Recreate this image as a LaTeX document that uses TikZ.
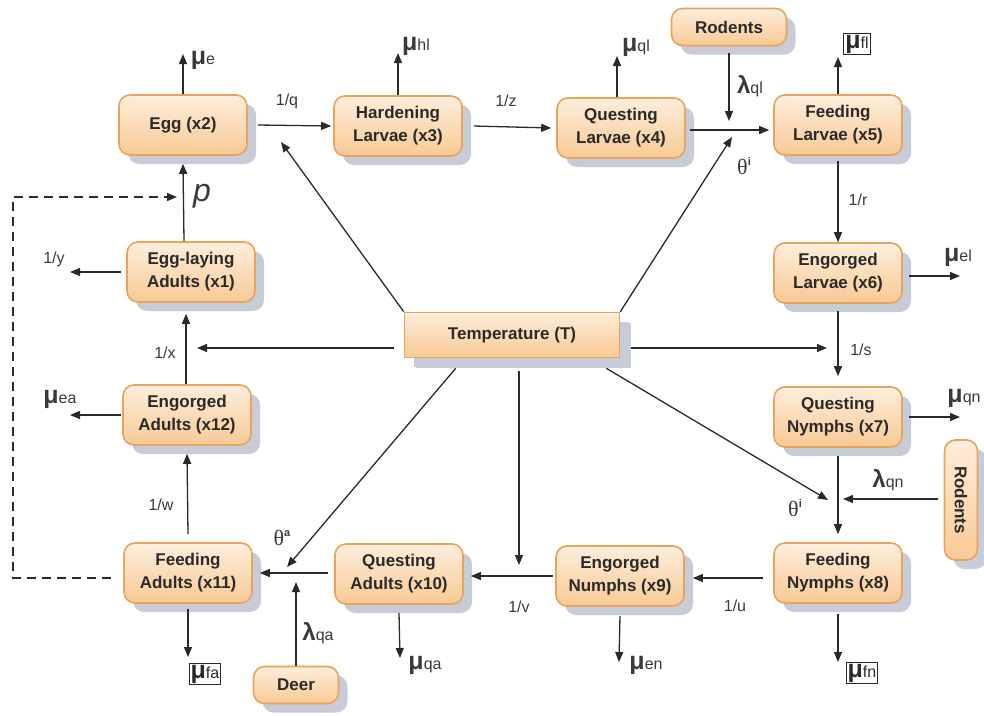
\documentclass[tikz,border=0pt]{standalone}
\usepackage{fontspec}
\setmainfont{Liberation Sans}
\newfontfamily\thetafont{Liberation Serif}
\usetikzlibrary{arrows.meta,shadows}
\definecolor{boxtop}{HTML}{FDEEDC}
\definecolor{boxbot}{HTML}{F8C994}
\definecolor{boxline}{HTML}{E8A45C}
\definecolor{shad}{HTML}{C7CCD8}
\definecolor{ink}{HTML}{2A2A2A}
\definecolor{lbl}{HTML}{3A3A3A}
\definecolor{thc}{HTML}{555555}
\newcommand\murate[1]{{\fontsize{25}{25}\selectfont\bfseries μ}{\fontsize{16}{16}\selectfont #1}}
\newcommand\lamrate[1]{{\fontsize{24}{24}\selectfont\bfseries λ}{\fontsize{16}{16}\selectfont #1}}
\newcommand\thrate[1]{{\thetafont\fontsize{22}{22}\selectfont θ}\raisebox{9pt}{\fontsize{11}{11}\selectfont\bfseries #1}}
\tikzset{
  stage/.style={draw=boxline, line width=1.6pt, rounded corners=11pt,
    top color=boxtop, bottom color=boxbot,
    minimum width=128pt, minimum height=60pt, inner sep=2pt, align=center,
    font=\fontsize{17}{23}\selectfont\bfseries, text=ink,
    drop shadow={shadow xshift=9pt, shadow yshift=-9pt, fill=shad, opacity=1}},
  flow/.style={draw=ink, line width=1.3pt, -{Triangle[length=10pt,width=8pt]}},
  lab/.style={font=\fontsize{16}{16}\selectfont, text=lbl, inner sep=0pt, anchor=center},
  muboxed/.style={draw=ink, line width=1.2pt, inner sep=1.5pt, text=ink},
  dashflow/.style={draw=ink, line width=1.3pt, dash pattern=on 9pt off 6pt, -{Triangle[length=10pt,width=8pt]}}
}
\begin{document}
\begin{tikzpicture}[x=1pt,y=-1pt]
\useasboundingbox (0,0) rectangle (984,715);
% stages
\node[stage] (e2) at (183,125) {Egg (x2)};
\node[stage] (e3) at (398,126) {Hardening\\Larvae (x3)};
\node[stage] (e4) at (621,128) {Questing\\Larvae (x4)};
\node[stage, minimum width=115pt, minimum height=37pt] (rod1) at (729,27) {Rodents};
\node[stage] (e5) at (838,125) {Feeding\\Larvae (x5)};
\node[stage] (e6) at (838,273) {Engorged\\Larvae (x6)};
\node[stage] (e7) at (838,417) {Questing\\Nymphs (x7)};
\node[stage, minimum width=33pt, minimum height=120pt] (rod2) at (961,500) {\rotatebox{-90}{Rodents}};
\node[stage] (e8) at (838,573) {Feeding\\Nymphs (x8)};
\node[stage] (e9) at (620,576) {Engorged\\Numphs (x9)};
\node[stage] (e10) at (399,574) {Questing\\Adults (x10)};
\node[stage] (e11) at (188,573) {Feeding\\Adults (x11)};
\node[stage, minimum width=85pt, minimum height=37pt] (deer) at (296,685) {Deer};
\node[stage] (e12) at (187,415) {Engorged\\Adults (x12)};
\node[stage] (e1) at (191,272) {Egg-laying\\Adults (x1)};
\node[stage, sharp corners, minimum width=215pt, minimum height=45pt,
  drop shadow={shadow xshift=11pt, shadow yshift=-10pt, fill=shad, opacity=1}] (temp) at (512,335) {Temperature (T)};

% free ends
\coordinate (mue) at (183,54);
\coordinate (muhl) at (398,53);
\coordinate (muql) at (617,56);
\coordinate (j1r) at (729,121);
\coordinate (j1t) at (732,137);
\coordinate (mufl) at (838,57);
\coordinate (muel) at (960,276);
\coordinate (j3) at (827,348);
\coordinate (muqn) at (960,417);
\coordinate (j4) at (843,499);
\coordinate (j5) at (828,500);
\coordinate (mufn) at (838,662);
\coordinate (muen) at (619,662);
\coordinate (j6) at (519,565);
\coordinate (muqa) at (400,658);
\coordinate (j7) at (296,582);
\coordinate (j8) at (287,567);
\coordinate (mufa) at (188,657);
\coordinate (dA) at (13,578);
\coordinate (dB) at (13,197);
\coordinate (dC) at (177,197);
\coordinate (muea) at (70,415);
\coordinate (j9) at (197,348);
\coordinate (muy) at (70,272);
\coordinate (j10) at (281,142);

% top row
\draw[flow] (e2.north) -- (mue);
\node[lab] (lmue) at (203,60) {\murate{e}};
\draw[flow] ([xshift=10pt]e2.east) -- ([xshift=-2pt]e3.west);
\node[lab] (lq) at (287,101) {1/q};
\draw[flow] (e3.north) -- (muhl);
\node[lab] (lmuhl) at (416,46) {\murate{hl}};
\draw[flow] ([xshift=11pt]e3.east) -- ([xshift=-5pt]e4.west);
\node[lab] (lz) at (506,101) {1/z};
\draw[flow] ([xshift=-4pt]e4.north) -- (muql);
\node[lab] (lmuql) at (636,47) {\murate{ql}};
\draw[flow] ([shift={(4pt,-2pt)}]e4.east) -- ([shift={(-4pt,-5pt)}]e5.west);
\draw[flow] ([yshift=-7pt]rod1.south) -- (j1r);
\node[lab] (llql) at (750,86) {\lamrate{ql}};
\draw[flow] (temp.north east) -- (j1t);
\node[lab] (lth1) at (744,166) {\thrate{i}};
\draw[flow] (e5.north) -- (mufl);
\node[lab, muboxed] (lmufl) at (857,44) {\murate{fl}};

% right column
\draw[flow] ([yshift=-5pt]e5.south) -- (e6.north);
\node[lab] (lr) at (858,200) {1/r};
\draw[flow] ([shift={(6pt,-3pt)}]e6.east) -- (muel);
\node[lab] (lmuel) at (958,257) {\murate{el}};
\draw[flow] ([yshift=-7pt]e6.south) -- ([yshift=10pt]e7.north);
\node[lab] (ls) at (861,350) {1/s};
\draw[flow] ([shift={(11pt,-13pt)}]temp.east) -- (j3);
\draw[flow] ([xshift=6pt]e7.east) -- (muqn);
\node[lab] (lmuqn) at (964,398) {\murate{qn}};
\draw[flow] ([yshift=-8pt]e7.south) -- ([yshift=8pt]e8.north);
\draw[flow] ([shift={(-6pt,1pt)}]rod2.west) -- (j4);
\node[lab] (llqn) at (888,480) {\lamrate{qn}};
\draw[flow] ([shift={(-14pt,-10pt)}]temp.south east) -- (j5);
\node[lab] (lth2) at (795,508) {\thrate{i}};
\draw[flow] ([yshift=-10pt]e8.south) -- (mufn);
\node[lab, muboxed] (lmufn) at (862,673) {\murate{fn}};

% bottom row
\draw[flow] ([shift={(-10pt,-5pt)}]e8.west) -- ([shift={(8pt,-2pt)}]e9.east);
\node[lab] (lu) at (735,606) {1/u};
\draw[flow] ([yshift=-9pt]e9.south) -- (muen);
\node[lab] (lmuen) at (646,665) {\murate{en}};
\draw[flow] ([xshift=-2pt]e9.west) -- ([shift={(7pt,-2pt)}]e10.east);
\node[lab] (lv) at (519,607) {1/v};
\draw[flow] ([shift={(7pt,-13pt)}]temp.south) -- (j6);
\draw[flow] ([yshift=-8pt]e10.south) -- (muqa);
\node[lab] (lmuqa) at (425,665) {\murate{qa}};
\draw[flow] ([shift={(-6pt,1pt)}]e10.west) -- ([xshift=7pt]e11.east);
\draw[flow] (deer.north) -- (j7);
\node[lab] (llqa) at (318,633) {\lamrate{qa}};
\draw[flow] ([shift={(52pt,-10pt)}]temp.south west) -- (j8);
\node[lab] (ltha) at (282,538) {\thrate{a}};
\draw[flow] ([yshift=-5pt]e11.south) -- (mufa);
\node[lab, muboxed] (lmufa) at (205,674) {\murate{fa}};

% left column
\draw[flow] ([yshift=8pt]e11.north) -- ([yshift=-8pt]e12.south);
\node[lab] (lw) at (161,505) {1/w};
\draw[dashflow] ([shift={(-12pt,-5pt)}]e11.west) -- (dA) -- (dB) -- (dC);
\draw[flow] ([xshift=-1pt]e12.west) -- (muea);
\node[lab] (lmuea) at (60,399) {\murate{ea}};
\draw[flow] ([xshift=-1pt]e12.north) -- ([shift={(-5pt,-11pt)}]e1.south);
\node[lab] (lx) at (165,353) {1/x};
\draw[flow] ([shift={(-10pt,-13pt)}]temp.west) -- (j9);
\draw[flow] ([xshift=-5pt]e1.west) -- (muy);
\node[lab] (ly) at (54,259) {1/y};
\draw[flow] ([xshift=-7pt]e1.north) -- ([yshift=-8pt]e2.south);
\node[lab, font=\fontsize{32}{32}\selectfont\itshape] (lp) at (202,196) {p};
\draw[flow] (temp.north west) -- (j10);
\end{tikzpicture}
\end{document}
